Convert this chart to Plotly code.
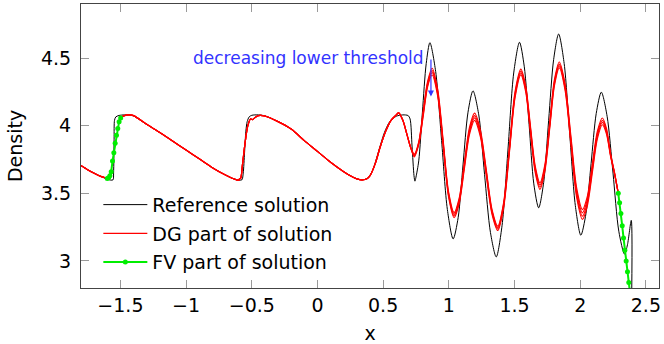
import plotly.graph_objects as go

# ---------------- data ----------------
ref_x = [-1.8, -1.75, -1.7, -1.65, -1.6, -1.575, -1.556, -1.552, -1.548, -1.545, -1.535, -1.51, -1.47, -1.43,
         -1.4, -1.3, -1.2, -1.1, -1.0, -0.9, -0.8, -0.7, -0.65, -0.6, -0.575, -0.565, -0.555, -0.545, -0.535,
         -0.52, -0.5, -0.45, -0.4, -0.3, -0.2, -0.1, 0.0, 0.1, 0.2, 0.25, 0.3, 0.34, 0.38, 0.42, 0.45, 0.48,
         0.51, 0.55, 0.6, 0.65, 0.69, 0.705, 0.72, 0.735, 0.742, 0.75, 0.771, 0.799, 0.828, 0.856, 0.900,
         0.945, 0.989, 1.033, 1.071, 1.108, 1.146, 1.184, 1.228, 1.272, 1.317, 1.361, 1.405, 1.450, 1.494,
         1.538, 1.574, 1.611, 1.647, 1.684, 1.722, 1.760, 1.798, 1.836, 1.878, 1.921, 1.963, 2.005, 2.044,
         2.083, 2.122, 2.161, 2.205, 2.25, 2.294, 2.338, 2.36, 2.389, 2.3905]
ref_y = [3.705, 3.675, 3.65, 3.625, 3.605, 3.598, 3.60, 3.65, 3.90, 4.04, 4.065, 4.076, 4.08, 4.079,
         4.072, 4.01, 3.95, 3.885, 3.82, 3.755, 3.69, 3.635, 3.612, 3.598, 3.60, 3.65, 3.80, 3.96, 4.03,
         4.065, 4.077, 4.08, 4.073, 4.03, 3.975, 3.89, 3.81, 3.73, 3.66, 3.63, 3.607, 3.600, 3.61, 3.67,
         3.76, 3.86, 3.95, 4.03, 4.07, 4.08, 4.075, 4.05, 3.85, 3.63, 3.59, 3.62, 3.74, 4.10, 4.46, 4.614,
         4.40, 3.89, 3.38, 3.163, 3.32, 3.71, 4.10, 4.258, 4.08, 3.64, 3.21, 3.03, 3.26, 3.82, 4.39, 4.617,
         4.44, 4.01, 3.57, 3.393, 3.58, 4.04, 4.49, 4.678, 4.46, 3.93, 3.41, 3.19, 3.35, 3.72, 4.09, 4.248,
         4.07, 3.65, 3.22, 3.05, 3.12, 3.30, 2.6]

# DG part: common smooth section (identical for all thresholds)
dg_common_x = [-1.8, -1.75, -1.7, -1.65, -1.6, None, -1.498, -1.47, -1.43, -1.4, -1.3, -1.2, -1.1, -1.0,
               -0.9, -0.8, -0.7, -0.65, -0.61, -0.6, -0.595, -0.585, -0.57, -0.55, -0.53, -0.51, -0.495,
               -0.47, -0.45, -0.4, -0.3, -0.2, -0.1, 0.0, 0.1, 0.2, 0.25, 0.3, 0.34, 0.38, 0.40, 0.44,
               0.48, 0.52, 0.56]
dg_common_y = [3.705, 3.675, 3.648, 3.625, 3.61, None, 4.057, 4.075, 4.08, 4.075, 4.01, 3.95, 3.885, 3.82,
               3.755, 3.69, 3.635, 3.612, 3.598, 3.595, 3.605, 3.61, 3.72, 3.88, 4.0, 4.05, 4.045,
               4.065, 4.075, 4.072, 4.03, 3.975, 3.89, 3.81, 3.73, 3.66, 3.63, 3.607, 3.6, 3.61, 3.63, 3.72,
               3.85, 3.96, 4.04]
# DG part: oscillatory section, one curve per lower threshold
dg_osc_x = [0.60, 0.618, 0.65, 0.68, 0.71, 0.737, 0.771, 0.805, 0.839, 0.873, 0.915, 0.957, 0.998, 1.04,
            1.079, 1.118, 1.157, 1.196, 1.240, 1.285, 1.329, 1.373, 1.417, 1.461, 1.504, 1.548, 1.585,
            1.621, 1.658, 1.694, 1.731, 1.768, 1.804, 1.841, 1.885, 1.929, 1.973, 2.017, 2.055, 2.093,
            2.131, 2.169, 2.2, 2.232, 2.26, 2.29]
dg_osc_y1 = [4.08, 4.095, 4.04, 3.94, 3.84, 3.79, 3.88, 4.11, 4.33, 4.425, 4.27, 3.89, 3.51, 3.358, 3.465,
             3.725, 3.985, 4.093, 3.97, 3.676, 3.38, 3.258, 3.43, 3.84, 4.25, 4.418, 4.295, 4.00, 3.70,
             3.578, 3.71, 4.025, 4.34, 4.471, 4.31, 3.926, 3.54, 3.38, 3.48, 3.72, 3.96, 4.057, 3.98,
             3.79, 3.66, 3.50]
dg_osc_y2 = [4.08, 4.095, 4.04, 3.94, 3.838, 3.783, 3.873, 4.097, 4.317, 4.408, 4.253, 3.877, 3.498, 3.345,
             3.452, 3.71, 3.968, 4.075, 3.953, 3.662, 3.368, 3.247, 3.418, 3.827, 4.236, 4.404, 4.281,
             3.984, 3.685, 3.562, 3.694, 4.01, 4.325, 4.456, 4.294, 3.906, 3.517, 3.356, 3.457, 3.699,
             3.941, 4.04, 3.967, 3.783, 3.657, 3.50]
dg_osc_y3 = [4.08, 4.095, 4.04, 3.94, 3.837, 3.777, 3.867, 4.083, 4.303, 4.392, 4.237, 3.863, 3.487, 3.333,
             3.438, 3.695, 3.952, 4.058, 3.937, 3.647, 3.357, 3.236, 3.405, 3.813, 4.221, 4.39, 4.266,
             3.969, 3.669, 3.546, 3.678, 3.994, 4.311, 4.442, 4.279, 3.886, 3.494, 3.331, 3.433, 3.678,
             3.923, 4.024, 3.953, 3.777, 3.653, 3.50]
dg_osc_y4 = [4.08, 4.095, 4.04, 3.94, 3.835, 3.77, 3.86, 4.07, 4.29, 4.375, 4.22, 3.85, 3.475, 3.32, 3.425,
             3.68, 3.935, 4.04, 3.92, 3.633, 3.345, 3.225, 3.393, 3.80, 4.207, 4.376, 4.252, 3.953, 3.654,
             3.53, 3.662, 3.979, 4.296, 4.427, 4.263, 3.867, 3.471, 3.307, 3.41, 3.657, 3.904, 4.007,
             3.94, 3.77, 3.65, 3.50]

# FV part (shock regions)
fv_x = [-1.6, -1.59, -1.58, -1.57, -1.56, -1.55, -1.54, -1.53, -1.52, -1.51, -1.498, None,
        2.29, 2.30, 2.31, 2.32, 2.33, 2.34, 2.35, 2.36, 2.37, 2.38]
fv_y = [3.61, 3.615, 3.63, 3.66, 3.74, 3.80, 3.87, 3.93, 3.98, 4.03, 4.057, None,
        3.50, 3.43, 3.35, 3.26, 3.17, 3.08, 3.00, 2.92, 2.84, 2.76]

x_ticks = [-1.5, -1, -0.5, 0, 0.5, 1, 1.5, 2, 2.5]
x_tick_labels = ["\u22121.5", "\u22121", "\u22120.5", "0", "0.5", "1", "1.5", "2", "2.5"]
y_ticks = [3, 3.5, 4, 4.5]
y_tick_labels = ["3", "3.5", "4", "4.5"]

FONT = "DejaVu Sans"
BLUE = "#3333ff"
GREEN = "#00ee00"

fig = go.Figure()
fig.add_trace(go.Scatter(x=ref_x, y=ref_y, mode="lines", name="Reference solution",
                         line=dict(color="black", width=1, shape="spline", smoothing=0.8),
                         legendgroup="ref"))
for i, ys in enumerate([dg_osc_y1, dg_osc_y2, dg_osc_y3, dg_osc_y4]):
    fig.add_trace(go.Scatter(x=dg_common_x + dg_osc_x, y=dg_common_y + ys, mode="lines",
                             name="DG part of solution", showlegend=(i == 0), connectgaps=False,
                             line=dict(color="red", width=1.2, shape="spline", smoothing=0.8),
                             legendgroup="dg"))
fig.add_trace(go.Scatter(x=fv_x, y=fv_y, mode="lines+markers", name="FV part of solution",
                         connectgaps=False,
                         line=dict(color=GREEN, width=2),
                         marker=dict(color=GREEN, size=5), legendgroup="fv"))

fig.add_annotation(x=0.864, y=4.216, ax=0.864, ay=4.5, xref="x", yref="y", axref="x", ayref="y",
                   showarrow=True, arrowhead=2, arrowsize=1, arrowwidth=1.2, arrowcolor=BLUE, text="")
fig.add_annotation(x=0.828, y=4.5, xref="x", yref="y", text="decreasing lower threshold",
                   showarrow=False, xanchor="right", yanchor="middle",
                   font=dict(family=FONT, size=17, color=BLUE))

axis_common = dict(showline=True, linecolor="#444444", linewidth=1, mirror="ticks", ticks="inside",
                   ticklen=8, tickcolor="#9a9a9a", tickwidth=1, showgrid=False, zeroline=False,
                   tickfont=dict(family=FONT, size=19, color="black"))
fig.update_xaxes(range=[-1.8, 2.6], tickvals=x_ticks, ticktext=x_tick_labels,
                 title=dict(text="x", font=dict(family=FONT, size=19, color="black"), standoff=12),
                 **axis_common)
fig.update_yaxes(range=[2.8, 4.9], tickvals=y_ticks, ticktext=y_tick_labels,
                 title=dict(text="Density", font=dict(family=FONT, size=19, color="black"), standoff=13),
                 ticklabelstandoff=5, **axis_common)

fig.update_layout(width=664, height=344, margin=dict(l=81, r=3, t=3, b=56),
                  paper_bgcolor="white", plot_bgcolor="white",
                  legend=dict(x=0.03, y=0.36, xanchor="left", yanchor="top", bgcolor="rgba(0,0,0,0)",
                              traceorder="grouped", tracegroupgap=1, itemwidth=44,
                              font=dict(family=FONT, size=19, color="black")))

fig.write_html("out.html")
